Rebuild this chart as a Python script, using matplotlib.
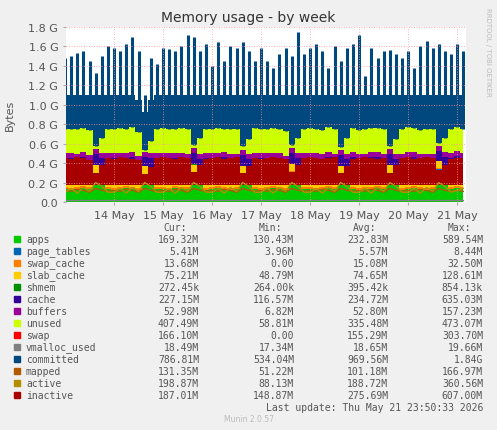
import numpy as np
import matplotlib
matplotlib.use("Agg")
import matplotlib.pyplot as plt

# time in days since 13 May 00:00, one sample every 3 h
t = np.arange(66) * 0.125

apps = [0.13,0.12,0.13,0.14,0.13,0.28,0.18,0.13, 0.12,0.13,0.14,0.13,0.12,0.27,0.19,0.13,
        0.13,0.12,0.14,0.13,0.13,0.29,0.17,0.12, 0.13,0.14,0.13,0.12,0.13,0.27,0.18,0.13,
        0.12,0.13,0.14,0.13,0.12,0.30,0.18,0.13, 0.13,0.12,0.13,0.14,0.13,0.27,0.17,0.13,
        0.12,0.13,0.13,0.14,0.13,0.28,0.18,0.12, 0.13,0.14,0.13,0.12,0.13,0.33,0.19,0.13,
        0.14,0.13]
page_tables = [0.0055]*66
swap_cache = [0.015]*66
slab_cache = [0.075]*66
shmem = [0.0004]*66
cache = [0.23,0.24,0.22,0.23,0.21,0.12,0.18,0.23, 0.24,0.23,0.22,0.24,0.21,0.10,0.17,0.23,
         0.23,0.24,0.22,0.23,0.22,0.12,0.18,0.24, 0.23,0.22,0.24,0.23,0.22,0.12,0.17,0.23,
         0.24,0.23,0.22,0.23,0.21,0.11,0.18,0.23, 0.23,0.24,0.22,0.23,0.22,0.12,0.18,0.24,
         0.23,0.22,0.24,0.23,0.22,0.12,0.17,0.23, 0.24,0.23,0.22,0.23,0.22,0.10,0.18,0.23,
         0.24,0.23]
buffers = [0.05]*66
unused = [0.25,0.24,0.26,0.25,0.25,0.03,0.15,0.25, 0.24,0.26,0.25,0.26,0.24,0.02,0.12,0.25,
          0.26,0.25,0.24,0.26,0.25,0.03,0.16,0.25, 0.25,0.26,0.24,0.25,0.26,0.04,0.15,0.26,
          0.25,0.24,0.26,0.25,0.25,0.03,0.15,0.25, 0.26,0.25,0.24,0.26,0.25,0.03,0.16,0.25,
          0.24,0.26,0.25,0.25,0.26,0.03,0.15,0.25, 0.26,0.25,0.24,0.25,0.26,0.03,0.14,0.24,
          0.25,0.25]
swap = [0.15]*66
vmalloc_used = [0.0186]*66
committed_base = [1.10]*12 + [1.05,0.93,1.05] + [1.10]*51
committed_peak = [1.48,1.50,1.53,1.55,1.45,1.33,1.50,1.60, 1.58,1.55,1.62,1.70,1.55,1.10,1.48,1.42,
                  1.58,1.57,1.55,1.60,1.72,1.70,1.55,1.62, 1.40,1.65,1.45,1.60,1.58,1.65,1.55,1.45,
                  1.58,1.45,1.38,1.52,1.58,1.50,1.75,1.52, 1.58,1.62,1.55,1.38,1.60,1.45,1.58,1.62,
                  1.72,1.30,1.58,1.48,1.55,1.56,1.52,1.48, 1.55,1.38,1.60,1.66,1.58,1.62,1.55,1.52,
                  1.62,1.55]
mapped = [0.12,0.11,0.13,0.12,0.10,0.14,0.12,0.11]*8 + [0.12,0.11]
active = [0.10,0.14,0.09,0.15,0.11,0.20,0.16,0.10]*8 + [0.12,0.14]
inactive_lo = [0.17]*66
inactive_hi = [0.45,0.44,0.46,0.45,0.43,0.30,0.38,0.45, 0.44,0.46,0.45,0.44,0.43,0.29,0.36,0.45,
               0.46,0.45,0.44,0.46,0.45,0.31,0.38,0.44, 0.45,0.46,0.44,0.45,0.46,0.30,0.37,0.45,
               0.44,0.45,0.46,0.45,0.44,0.31,0.38,0.45, 0.46,0.45,0.44,0.45,0.46,0.30,0.37,0.44,
               0.45,0.46,0.45,0.44,0.45,0.30,0.38,0.45, 0.46,0.44,0.45,0.46,0.45,0.33,0.38,0.44,
               0.45,0.45]

names = ["apps","page_tables","swap_cache","slab_cache","shmem","cache","buffers","unused",
         "swap","vmalloc_used","committed","mapped","active","inactive"]
colors = ["#00CC00","#0066B3","#FF8000","#FFCC00","#008F00","#330099","#990099","#CCFF00",
          "#FF0000","#808080","#00487D","#B35A00","#B38F00","#A80000"]
stats = [("169.32M","130.43M","232.83M","589.54M"),("5.41M","3.96M","5.57M","8.44M"),
         ("13.68M","0.00","15.08M","32.50M"),("75.21M","48.79M","74.65M","128.61M"),
         ("272.45k","264.00k","395.42k","854.13k"),("227.15M","116.57M","234.72M","635.03M"),
         ("52.98M","6.82M","52.80M","157.23M"),("407.49M","58.81M","335.48M","473.07M"),
         ("166.10M","0.00","155.29M","303.70M"),("18.49M","17.34M","18.65M","19.66M"),
         ("786.81M","534.04M","969.56M","1.84G"),("131.35M","51.22M","101.18M","166.97M"),
         ("198.87M","88.13M","188.72M","360.56M"),("187.01M","148.87M","275.69M","607.00M")]

W, H = 497, 431
fig = plt.figure(figsize=(W/100, H/100), dpi=100, facecolor="#F0F0F0")
ax = fig.add_axes([66/W, 1-203/H, 400/W, 175/H])
ax.set_facecolor("white")

stack = [apps, page_tables, swap_cache, slab_cache, shmem, cache, buffers, unused, swap]
base = np.zeros(len(t))
tops = []
for s, c in zip(stack, colors[:9]):
    s = np.array(s)
    ax.fill_between(t, base, base + s, color=c, lw=0, step="mid")
    base = base + s
    tops.append(base.copy())
unused_top = tops[7]
ax.fill_between(t, unused_top, np.array(committed_base), where=np.array(committed_base) > unused_top,
                color=colors[10], lw=0, step="mid")
ax.vlines(t, unused_top, committed_peak, color=colors[10], lw=2.2)
ax.fill_between(t, inactive_lo, inactive_hi, color=colors[13], lw=0, step="mid")
ax.plot(t, mapped, color=colors[11], lw=1)
ax.plot(t, active, color=colors[12], lw=1)
ax.plot(t, vmalloc_used, color=colors[9], lw=1)

ax.set_xlim(0.02, 8.18)
ax.set_ylim(0, 1.8)
yt = np.arange(0, 1.81, 0.2)
ax.set_yticks(yt)
ax.set_yticklabels(["0.0"] + [f"{v:.1f} G" for v in yt[1:]], fontsize=8, color="#555555")
ax.set_xticks(np.arange(1, 9))
ax.set_xticklabels([f"{d} May" for d in range(14, 22)], fontsize=8, color="#555555")
ax.grid(True, color="#FF9999", ls=(0, (1, 2)), lw=0.6)
ax.tick_params(length=2, colors="#AAAAAA", labelcolor="#555555")
for sp in ax.spines.values():
    sp.set_visible(False)
ax.set_axisbelow(False)

fig.text(0.5, 1-18/H, "Memory usage - by week", ha="center", va="center", fontsize=10, color="#333333")
fig.text(10/W, 1-115/H, "Bytes", rotation=90, ha="center", va="center", fontsize=8, color="#555555")
fig.text(488/W, 1-52/H, "RRDTOOL / TOBI OETIKER", rotation=270, ha="center", va="center",
         fontsize=5, color="#BBBBBB")

mono = "DejaVu Sans Mono"
cols = [199, 294, 388, 483]
for x, h in zip(cols, ["Cur:", "Min:", "Avg:", "Max:"]):
    fig.text((x-12)/W, 1-228/H, h, ha="right", va="center", fontsize=7, family=mono, color="#555555")
for i, (n, c, st) in enumerate(zip(names, colors, stats)):
    y = 1 - (240 + i*12)/H
    fig.patches.append(plt.Rectangle((14/W, y-3/H), 6/W, 6/H, transform=fig.transFigure,
                                     color=c, figure=fig))
    fig.text(26/W, y, n, ha="left", va="center", fontsize=7, family=mono, color="#555555")
    for x, v in zip(cols, st):
        fig.text(x/W, y, v, ha="right", va="center", fontsize=7, family=mono, color="#555555")
fig.text(483/W, 1-408/H, "Last update: Thu May 21 23:50:33 2026", ha="right", va="center",
         fontsize=7, family=mono, color="#555555")
fig.text(249/W, 1-420/H, "Munin 2.0.57", ha="center", va="center", fontsize=5.5, color="#BBBBBB")

fig.savefig("out.png", dpi=100, facecolor=fig.get_facecolor())
